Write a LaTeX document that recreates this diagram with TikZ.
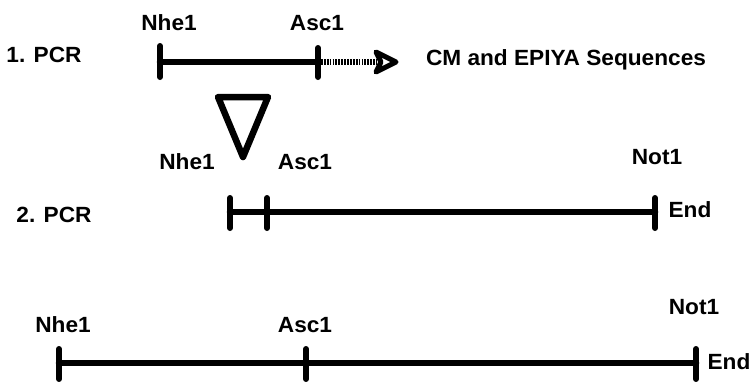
\documentclass[tikz,border=0pt]{standalone}
\usepackage{fontspec}
\setmainfont{Liberation Sans}
\begin{document}
\begin{tikzpicture}[x=1pt,y=-1pt,
  lbl/.style={font=\bfseries\fontsize{22}{26}\selectfont, inner sep=0pt, xscale=1.03},
  bar/.style={line width=6.5pt, line cap=round},
  tick/.style={line width=6pt, line cap=round},
  dotline/.style={line width=5.5pt, dash pattern=on 1.8pt off 1.1pt},
  head/.style={line width=5pt, line join=round},
  tri/.style={line width=6.5pt, line join=round}]
\useasboundingbox (0,0) rectangle (751,381);
% row 1
\node[lbl] (pcr1) at (44,55) {1. PCR};
\node[lbl] (n1) at (169,23) {Nhe1};
\node[lbl] (a1) at (317,23) {Asc1};
\node[lbl] (cm) at (566,60) {CM and EPIYA Sequences};
\coordinate (r1a) at (160,62);
\coordinate (r1b) at (318,62);
\coordinate (r1c) at (377,62);
\coordinate (tip) at (396,62);
\draw[bar] (r1a) -- (r1b);
\draw[tick] (160,46) -- (160,77);
\draw[tick] (318,48) -- (318,77);
\draw[dotline] (r1b) -- (r1c);
\draw[head] (376,52) -- (tip) -- (376,72) -- (381,62) -- cycle;
% triangle
\draw[tri] (218,97) -- (268,97) -- (243,157) -- cycle;
% row 2
\node[lbl] (pcr2) at (54,215) {2. PCR};
\node[lbl] (n2) at (187,162) {Nhe1};
\node[lbl] (a2) at (305,162) {Asc1};
\node[lbl] (t2) at (657,157) {Not1};
\node[lbl] (e2) at (690,210) {End};
\coordinate (r2a) at (230,212);
\coordinate (r2b) at (655,212);
\draw[bar] (r2a) -- (r2b);
\draw[tick] (230,198) -- (230,228);
\draw[tick] (267,198) -- (267,228);
\draw[tick] (655,198) -- (655,228);
% row 3
\node[lbl] (n3) at (63,325) {Nhe1};
\node[lbl] (a3) at (305,325) {Asc1};
\node[lbl] (t3) at (694,307) {Not1};
\node[lbl] (e3) at (729,362) {End};
\coordinate (r3a) at (59,363);
\coordinate (r3b) at (696,363);
\draw[bar] (r3a) -- (r3b);
\draw[tick] (59,349) -- (59,379);
\draw[tick] (306,349) -- (306,379);
\draw[tick] (696,349) -- (696,379);
\end{tikzpicture}
\end{document}
